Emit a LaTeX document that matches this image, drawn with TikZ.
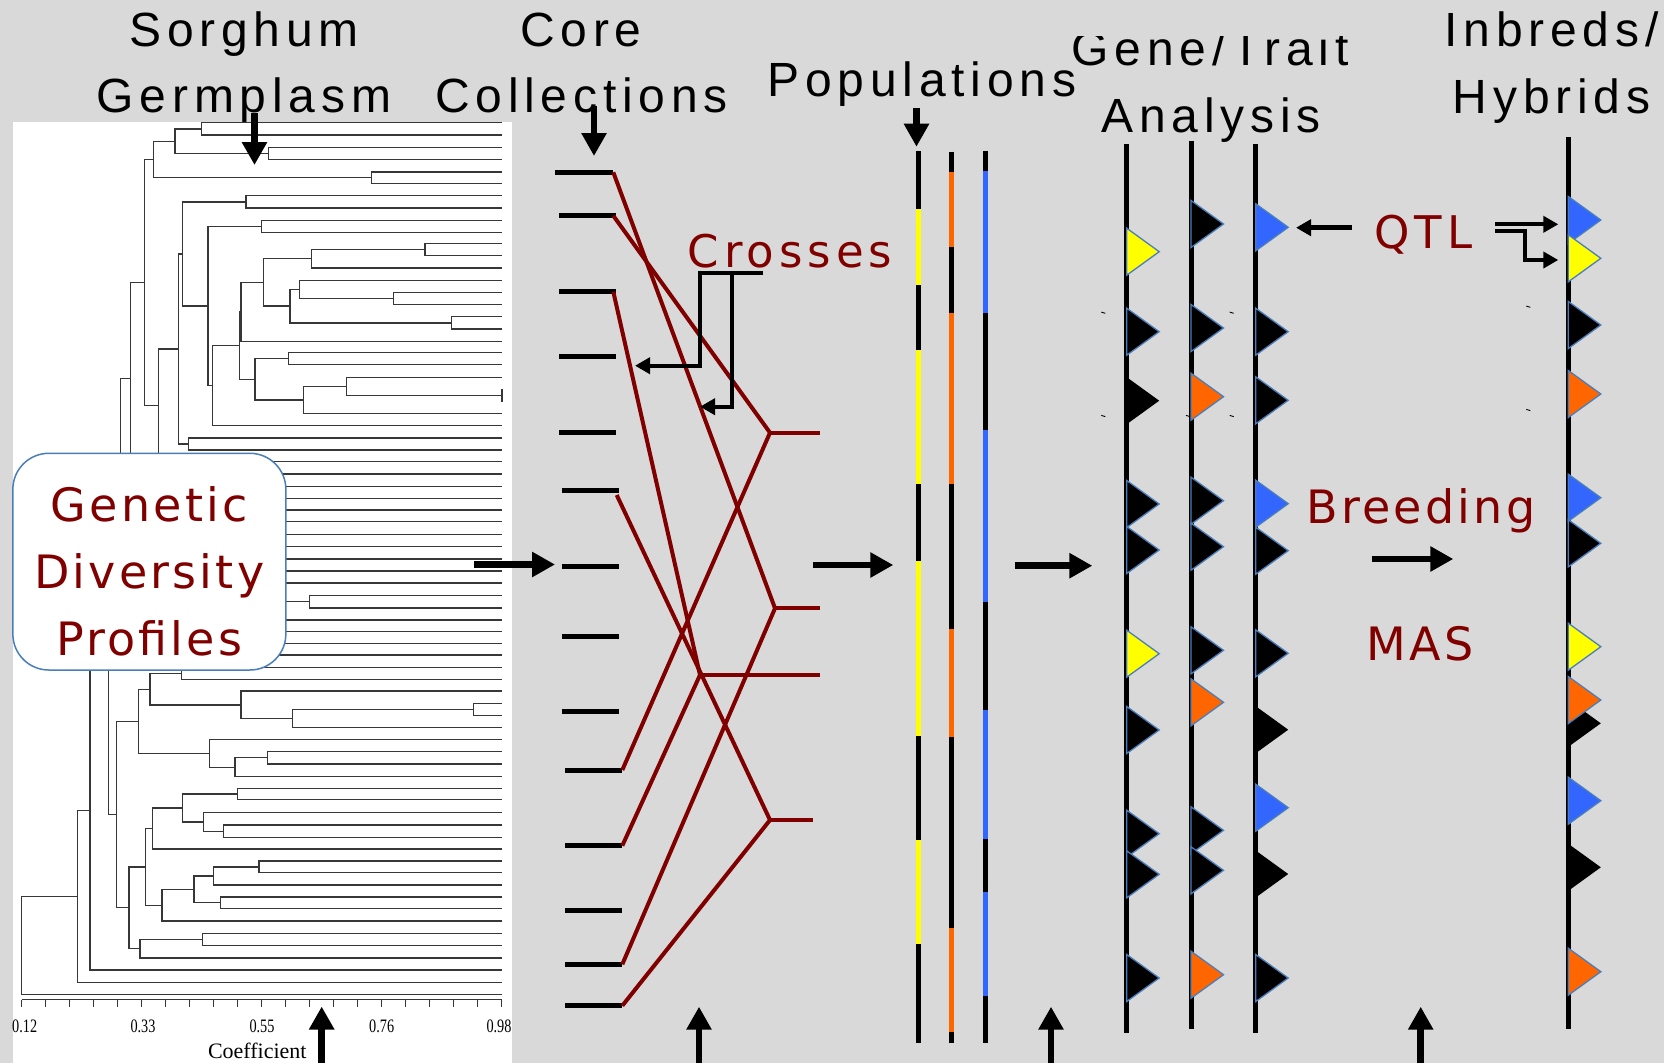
\documentclass[tikz,border=0pt]{standalone}
\usepackage{fontspec}
\setmainfont{Liberation Sans}
\newfontfamily\titlefont[LetterSpace=12]{Liberation Sans}
\newfontfamily\redfontA[LetterSpace=7]{DejaVu Sans}
\newfontfamily\redfontB[LetterSpace=11]{DejaVu Sans}
\newfontfamily\axisfont{Liberation Serif}
\usetikzlibrary{arrows.meta}
\definecolor{bg}{RGB}{217,217,217}
\definecolor{dred}{RGB}{128,0,0}
\definecolor{yel}{RGB}{255,255,0}
\definecolor{org}{RGB}{255,102,0}
\definecolor{blu}{RGB}{51,102,255}
\definecolor{edge}{RGB}{74,126,187}
\definecolor{dendc}{RGB}{55,55,55}
\newcommand\dcl[5]{\draw[dend] (#4,#2) -- (#1,#2) -- (#1,#3) -- (#5,#3);}
\newcommand\lf[2]{\draw[dend] (#1,#2) -- (502,#2);}
\newcommand\trg[4]{\draw[#4, fill=#3] (#1,#2-23.5) -- (#1+32.5,#2) -- (#1,#2+23.5) -- cycle;}
\newcommand\tick[2]{\draw[line width=0.9pt] (#1-2,#2-0.6) -- (#1+2,#2+0.6);}
\tikzset{
  dend/.style={line width=1.3pt, draw=dendc},
  bigarrow/.style={line width=6.5pt, -{Triangle[length=23pt,width=24pt]}},
  smallarrow/.style={line width=4.5pt, -{Triangle[length=15pt,width=16pt]}},
  chrom/.style={line width=5pt, black},
  seg/.style={line width=5pt},
  tro/.style={line width=1.3pt, draw=edge},
  trn/.style={draw=none},
  redline/.style={draw=dred, line width=4pt},
  cbar/.style={line width=5pt, black},
  titletext/.style={font=\titlefont\fontsize{48}{56}\selectfont, anchor=base, inner sep=0pt},
  redA/.style={font=\redfontA\fontsize{46}{55}\selectfont, text=dred, anchor=base, inner sep=0pt},
  redB/.style={font=\redfontB\fontsize{45}{54}\selectfont, text=dred, anchor=base, inner sep=0pt},
  axl/.style={font=\axisfont\fontsize{19}{22}\selectfont, anchor=base, inner sep=0pt},
}
\begin{document}
\begin{tikzpicture}[x=1pt,y=-1pt]
\useasboundingbox (0,0) rectangle (1664,1063);
\fill[bg] (0,0) rectangle (1664,1063);
% dendrogram panel
\fill[white] (13,122) rectangle (512,1063);
% top clade
\dcl{201.7}{122.7}{135}{502}{502}
\dcl{268.3}{147.3}{159.7}{502}{502}
\dcl{175}{128.85}{153.5}{201.7}{268.3}
\dcl{371.7}{172}{183.3}{502}{502}
\dcl{153.3}{141.2}{177.65}{175}{371.7}
\dcl{246}{195.7}{208}{502}{502}
\dcl{261.7}{220.3}{232.3}{502}{502}
\dcl{425}{243.3}{255.7}{502}{502}
\dcl{311.7}{249.5}{268}{425}{502}
\dcl{393.3}{292.7}{304.3}{502}{502}
\dcl{299.3}{280.3}{298.5}{502}{393.3}
\dcl{451.7}{316.7}{329}{502}{502}
\dcl{290}{289.4}{322.85}{299.3}{451.7}
\dcl{263.3}{258.75}{306.1}{311.7}{290}
\dcl{241}{282.4}{341.3}{263.3}{502}
\dcl{288.3}{352.7}{364.7}{502}{502}
\dcl{346.7}{377.7}{395.7}{502}{502}
\dcl{303.3}{386.7}{413.3}{346.7}{502}
\dcl{255}{358.7}{400}{288.3}{303.3}
\dcl{239.3}{311.85}{379.35}{241}{255}
\dcl{212.3}{345.6}{425.7}{239.3}{502}
\dcl{208}{226.3}{385.65}{261.7}{212.3}
\dcl{182.3}{201.85}{306}{246}{208}
\dcl{188.3}{438}{450}{502}{502}
\dcl{178.3}{253.9}{444}{182.3}{188.3}
\dcl{158.3}{348.95}{461.7}{178.3}{502}
\dcl{144.3}{159.4}{405.3}{153.3}{158.3}
\dcl{130.7}{282.35}{474}{144.3}{502}
\dcl{120.7}{378.2}{593.8}{130.7}{250}
\draw[dend] (502,389) -- (502,402);
% hidden middle clade
\draw[dend] (250,486.7) -- (250,655);
\foreach \y in {486.7,498.3,510,521.7,534.5,546.7,559.1,570.9,583,620.1,631.5,643.3,655} {\lf{250}{\y}}
\dcl{309.3}{595.5}{608}{502}{502}
\draw[dend] (250,601.75) -- (309.3,601.75);
% lower clade
\dcl{181.7}{667.5}{679.6}{502}{502}
\dcl{473.3}{703.5}{715.6}{502}{502}
\dcl{292.7}{709.55}{727.8}{473.3}{502}
\dcl{241}{691.1}{718.7}{502}{292.7}
\dcl{150}{673.55}{704.9}{181.7}{241}
\dcl{267.3}{751.3}{764.1}{502}{502}
\dcl{235}{757.7}{776.6}{267.3}{502}
\dcl{209.3}{739.2}{767.15}{502}{235}
\dcl{138.3}{689.2}{753.2}{150}{209.3}
\dcl{237.7}{788.4}{799.8}{502}{502}
\dcl{223.3}{825.1}{837.2}{502}{502}
\dcl{203.3}{812.6}{831.15}{502}{223.3}
\dcl{182.7}{794.1}{821.9}{237.7}{203.3}
\dcl{152.3}{808}{849}{182.7}{502}
\dcl{259}{861.1}{872.8}{502}{502}
\dcl{213.3}{866.95}{885}{259}{502}
\dcl{220.7}{897.1}{908.5}{502}{502}
\dcl{194}{876}{902.8}{213.3}{220.7}
\dcl{162}{889.4}{921}{194}{502}
\dcl{145.7}{828.5}{905.2}{152.3}{162}
\dcl{202.7}{933.4}{945.6}{502}{502}
\dcl{140}{939.5}{958}{202.7}{502}
\dcl{129}{866.85}{948.75}{145.7}{140}
\dcl{116.7}{721.2}{907.8}{138.3}{129}
\dcl{108.7}{486}{814.5}{120.7}{116.7}
\dcl{90}{650.25}{970.1}{108.7}{502}
\dcl{77.3}{810.2}{982.3}{90}{502}
\dcl{21.7}{896.25}{994.4}{77.3}{502}
% axis
\draw[dend] (21.7,999.6) -- (501.7,999.6);
\foreach \i in {0,...,20} {\draw[dend] (21.7+24*\i,999.6) -- (21.7+24*\i,1006.5);}
\node[axl] (ax1) at (24.7,1032) {\scalebox{0.75}[1]{0.12}};
\node[axl] (ax2) at (143,1032) {\scalebox{0.75}[1]{0.33}};
\node[axl] (ax3) at (262,1032) {\scalebox{0.75}[1]{0.55}};
\node[axl] (ax4) at (381.7,1032) {\scalebox{0.75}[1]{0.76}};
\node[axl] (ax5) at (499,1032) {\scalebox{0.75}[1]{0.98}};
\node[font=\axisfont\fontsize{22}{24}\selectfont, anchor=base, inner sep=0pt] (coef) at (257.3,1058.4) {Coefficient};
% genetic diversity box
\node[draw=edge, line width=1.5pt, fill=white, rounded corners=36pt, minimum width=273pt, minimum height=216.7pt, inner sep=0pt] (gdp) at (149.35,561.65) {};
\node[redA] (g1) at (149.3,521.7) {Genetic};
\node[redA] (g2) at (149.3,588.3) {Diversity};
\node[redA] (g3) at (149.3,655) {Profiles};
% core collection bars
\foreach \y/\a/\b in {172.3/555/613.3, 215.7/559/615.7, 291.7/559/615.7, 356.7/559/615.7, 432.3/559/615.7, 490.7/561.7/619, 566.7/561.7/619, 636/561.7/619, 711.7/561.7/619, 770/565/622.3, 845.7/565/622.3, 910.7/565/622.3, 964.3/565/622.3, 1005.7/565/622.3} {\draw[cbar] (\a,\y) -- (\b,\y);}
% crosses
\draw[redline] (613.3,172.3) -- (775,608.3) -- (622.3,964.3);
\draw[redline] (613.3,215.7) -- (770,432.7) -- (622.3,770);
\draw[redline] (613.3,291.7) -- (700,675) -- (622.3,845.7);
\draw[redline] (616.7,495) -- (770,820) -- (622.3,1005.7);
\draw[redline] (775,608.3) -- (820,608.3);
\draw[redline] (770,432.7) -- (820,432.7);
\draw[redline] (700,675) -- (820,675);
\draw[redline] (770,820) -- (813.3,820);
\node[redB] (cr) at (790,267.3) {Crosses};
\draw[smallarrow, line width=4pt] (763.3,272.7) -- (700,272.7) -- (700,365.7) -- (635,365.7);
\draw[smallarrow, line width=4pt] (731.7,272.7) -- (731.7,406.7) -- (700,406.7);
% population chromosomes
\draw[chrom] (918.3,151) -- (918.3,1042.7);
\draw[chrom] (951,151.7) -- (951,1042.7);
\draw[chrom] (985,150.7) -- (985,1042.7);
\foreach \a/\b in {209.3/285, 350/484, 560.7/736, 840/944} {\draw[seg, yel] (918.3,\a) -- (918.3,\b);}
\foreach \a/\b in {172.3/247.3, 312.7/484.3, 629.3/736.7, 927.7/1031.7} {\draw[seg, org] (951,\a) -- (951,\b);}
\foreach \a/\b in {171/312.7, 430/601.7, 710/838.7, 892.3/996} {\draw[seg, blu] (985,\a) -- (985,\b);}
% gene/trait chromosomes
\draw[chrom] (1126.7,144) -- (1126.7,1032.7);
\draw[chrom] (1191,140.7) -- (1191,1029.3);
\draw[chrom] (1255.7,144) -- (1255.7,1032.7);
\draw[chrom] (1568.3,137.3) -- (1568.3,1029.3);
% G1
\trg{1126.7}{251.7}{yel}{tro}
\trg{1126.7}{331.7}{black}{tro}
\trg{1126.7}{400.7}{black}{trn}
\trg{1126.7}{504}{black}{tro}
\trg{1126.7}{550}{black}{tro}
\trg{1126.7}{653.7}{yel}{tro}
\trg{1126.7}{730}{black}{tro}
\trg{1126.7}{833.7}{black}{tro}
\trg{1126.7}{874.3}{black}{tro}
\trg{1126.7}{978}{black}{tro}
% G2
\trg{1191}{224}{black}{tro}
\trg{1191}{328}{black}{tro}
\trg{1191}{396.7}{org}{tro}
\trg{1191}{500.7}{black}{tro}
\trg{1191}{546.7}{black}{tro}
\trg{1191}{650.3}{black}{tro}
\trg{1191}{702.3}{org}{tro}
\trg{1191}{830.3}{black}{tro}
\trg{1191}{870.3}{black}{tro}
\trg{1191}{974.7}{org}{tro}
% G3
\trg{1255.7}{227.3}{blu}{tro}
\trg{1255.7}{331.7}{black}{tro}
\trg{1255.7}{400.3}{black}{tro}
\trg{1255.7}{503.7}{blu}{tro}
\trg{1255.7}{550.7}{black}{tro}
\trg{1255.7}{653.3}{black}{tro}
\trg{1255.7}{729.7}{black}{trn}
\trg{1255.7}{807.7}{blu}{tro}
\trg{1255.7}{874}{black}{trn}
\trg{1255.7}{978}{black}{tro}
% H
\trg{1568.3}{220}{blu}{tro}
\trg{1568.3}{258.3}{yel}{tro}
\trg{1568.3}{325}{black}{tro}
\trg{1568.3}{394}{org}{tro}
\trg{1568.3}{497.7}{blu}{tro}
\trg{1568.3}{543.3}{black}{tro}
\trg{1568.3}{646.7}{yel}{tro}
\trg{1568.3}{723.3}{black}{trn}
\trg{1568.3}{700}{org}{tro}
\trg{1568.3}{800.7}{blu}{tro}
\trg{1568.3}{867.3}{black}{trn}
\trg{1568.3}{971.7}{org}{tro}
% tiny marks
\tick{1103.3}{312.7}
\tick{1103.3}{416}
\tick{1231.7}{312.7}
\tick{1231.7}{416}
\tick{1188}{416}
\tick{1528.3}{306.7}
\tick{1528.3}{410}
% red labels right
\node[redB] (qtl) at (1423.3,248.3) {QTL};
\node[redA] (br) at (1421,523.3) {Breeding};
\node[redA] (mas) at (1420,660) {MAS};
\draw[smallarrow] (1351.7,227.7) -- (1296,227.7);
\draw[smallarrow, line width=4pt] (1495,224.3) -- (1558.3,224.3);
\draw[smallarrow, line width=4pt] (1495,231) -- (1525,231) -- (1525,260) -- (1558.3,260);
% titles
\node[titletext] (t1) at (244,46.7) {Sorghum};
\node[titletext] (t2) at (244,112) {Germplasm};
\node[titletext] (t3) at (581,46.7) {Core};
\node[titletext] (t4) at (581.5,112) {Collections};
\node[titletext] (t5) at (922,96) {Populations};
\begin{scope}
\clip (1000,36.5) rectangle (1420,90);
\node[titletext] (t6) at (1210,65.8) {Gene/Trait};
\end{scope}
\node[titletext] (t7) at (1211,132.6) {Analysis};
\node[titletext] (t8) at (1551.6,46.7) {Inbreds/};
\node[titletext] (t9) at (1551.6,113) {Hybrids};
% big arrows
\draw[bigarrow] (254.5,113) -- (254.5,165);
\draw[bigarrow] (594,106) -- (594,156);
\draw[bigarrow] (916.5,108) -- (916.5,146.7);
\draw[bigarrow] (474,564.5) -- (555,564.5);
\draw[bigarrow] (813.3,565) -- (893.3,565);
\draw[bigarrow] (1015,565.7) -- (1092.3,565.7);
\draw[bigarrow] (1371.7,559) -- (1453.3,559);
\draw[bigarrow] (321.7,1063) -- (321.7,1006.5);
\draw[bigarrow] (699,1063) -- (699,1006.7);
\draw[bigarrow] (1051,1063) -- (1051,1006.7);
\draw[bigarrow] (1420.7,1063) -- (1420.7,1006.7);
\end{tikzpicture}
\end{document}
